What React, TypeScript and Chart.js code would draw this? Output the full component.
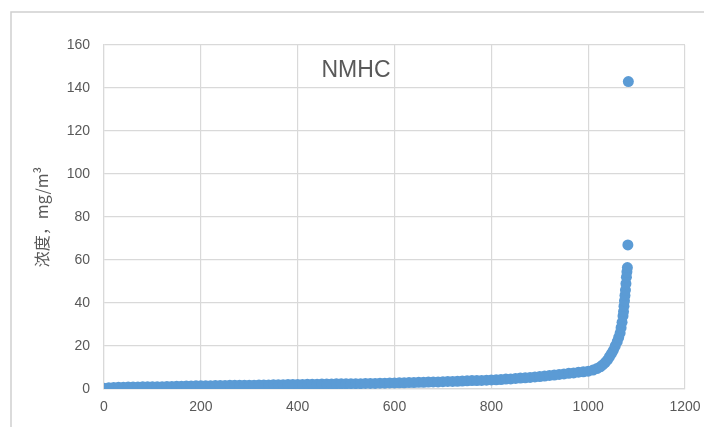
import React, { useEffect, useRef } from "react";
import { Chart, registerables } from "chart.js";

Chart.register(...registerables);

const chartTitle = "NMHC";
const yAxisLabel = "浓度，mg/m³";
const xTickValues = [0, 200, 400, 600, 800, 1000, 1200];
const yTickValues = [0, 20, 40, 60, 80, 100, 120, 140, 160];

const sampleIndex = [
  0, 10, 20, 30, 40, 50, 60, 70, 80, 90,
  100, 110, 120, 130, 140, 150, 160, 170, 180, 190,
  200, 210, 220, 230, 240, 250, 260, 270, 280, 290,
  300, 310, 320, 330, 340, 350, 360, 370, 380, 390,
  400, 410, 420, 430, 440, 450, 460, 470, 480, 490,
  500, 510, 520, 530, 540, 550, 560, 570, 580, 590,
  600, 610, 620, 630, 640, 650, 660, 670, 680, 690,
  700, 710, 720, 730, 740, 750, 760, 770, 780, 790,
  800, 810, 820, 830, 840, 850, 860, 870, 880, 890,
  900, 910, 920, 930, 940, 950, 960, 970, 980, 990,
  1000, 1010, 1018, 1025, 1030, 1035, 1040, 1044, 1048, 1052,
  1056, 1060, 1063, 1066, 1068, 1070, 1072, 1073, 1074, 1075,
  1076, 1077, 1078, 1079, 1080, 1081, 1082, 1083,
];

const concentration = [
  0.3, 0.6, 0.7, 0.8, 0.8, 0.9, 0.9, 0.9, 1.0, 1.0,
  1.0, 1.1, 1.1, 1.2, 1.2, 1.3, 1.3, 1.4, 1.4, 1.5,
  1.5, 1.5, 1.5, 1.6, 1.6, 1.6, 1.7, 1.7, 1.7, 1.8,
  1.8, 1.8, 1.9, 1.9, 1.9, 2.0, 2.0, 2.0, 2.1, 2.1,
  2.1, 2.1, 2.2, 2.2, 2.2, 2.3, 2.3, 2.3, 2.4, 2.4,
  2.4, 2.5, 2.5, 2.5, 2.6, 2.6, 2.6, 2.7, 2.7, 2.8,
  2.8, 2.9, 2.9, 3.0, 3.0, 3.1, 3.1, 3.2, 3.3, 3.3,
  3.4, 3.5, 3.5, 3.6, 3.7, 3.8, 3.9, 3.9, 4.0, 4.1,
  4.2, 4.3, 4.4, 4.6, 4.7, 4.9, 5.1, 5.2, 5.4, 5.6,
  5.8, 6.0, 6.3, 6.5, 6.8, 7.0, 7.3, 7.5, 7.8, 8.0,
  8.3, 8.8, 9.5, 10.3, 11.2, 12.3, 13.5, 15.0, 16.5, 18.0,
  20.0, 22.0, 24.0, 26.0, 28.5, 31.0, 34.0, 36.0, 38.5, 41.0,
  43.5, 46.0, 49.0, 52.0, 54.5, 56.5, 67.0, 143.0,
];

const TEXT_COLOR = "#595959";
const GRID_COLOR = "#d9d9d9";
const POINT_COLOR = "#5B9BD5";

const decorPlugin = {
  id: "decor",
  afterDraw(chart: any) {
    const ctx = chart.ctx;
    ctx.save();
    ctx.strokeStyle = "#d0d0d0";
    ctx.lineWidth = 1.5;
    ctx.beginPath();
    ctx.moveTo(11, 427);
    ctx.lineTo(11, 12);
    ctx.lineTo(704, 12);
    ctx.stroke();
    ctx.fillStyle = TEXT_COLOR;
    ctx.font = "23px 'Liberation Sans', Arial, sans-serif";
    ctx.textAlign = "center";
    ctx.textBaseline = "alphabetic";
    ctx.fillText(chartTitle, 356, 77);
    const area = chart.chartArea;
    ctx.translate(42, (area.top + area.bottom) / 2);
    ctx.rotate(-Math.PI / 2);
    ctx.font = "16px 'Noto Sans CJK SC', 'Liberation Sans', sans-serif";
    ctx.textBaseline = "middle";
    ctx.fillText(yAxisLabel, 0, 0);
    ctx.restore();
  },
};

export default function App() {
  const canvasRef = useRef<HTMLCanvasElement | null>(null);

  useEffect(() => {
    if (!canvasRef.current) return;
    const points = sampleIndex.map((x, i) => ({ x, y: concentration[i] }));
    const tickFont = { family: "'Liberation Sans', Arial, sans-serif", size: 14 };
    const chart = new Chart(canvasRef.current, {
      type: "scatter",
      data: {
        datasets: [
          {
            data: points,
            backgroundColor: POINT_COLOR,
            borderColor: POINT_COLOR,
            borderWidth: 0,
            pointRadius: 5.5,
          },
        ],
      },
      plugins: [decorPlugin],
      options: {
        responsive: false,
        animation: false,
        devicePixelRatio: 1,
        layout: { padding: { left: 0, top: 45, right: 19, bottom: 0 } },
        plugins: {
          legend: { display: false },
          title: { display: false },
          tooltip: { enabled: false },
        },
        scales: {
          x: {
            type: "linear",
            min: xTickValues[0],
            max: xTickValues[xTickValues.length - 1],
            afterBuildTicks: (s: any) => {
              s.ticks = xTickValues.map((v) => ({ value: v }));
            },
            afterFit: (s: any) => {
              s.height = 38;
              s.paddingLeft = 0;
              s.paddingRight = 0;
            },
            ticks: {
              color: TEXT_COLOR,
              font: tickFont,
              padding: 10,
              maxRotation: 0,
              callback: (v: any) => String(v),
            },
            grid: { color: GRID_COLOR, lineWidth: 1.2, drawTicks: false },
            border: { color: GRID_COLOR, width: 1.2 },
          },
          y: {
            type: "linear",
            min: yTickValues[0],
            max: yTickValues[yTickValues.length - 1],
            afterBuildTicks: (s: any) => {
              s.ticks = yTickValues.map((v) => ({ value: v }));
            },
            afterFit: (s: any) => {
              s.width = 104;
              s.paddingTop = 0;
              s.paddingBottom = 0;
            },
            ticks: { color: TEXT_COLOR, font: tickFont, padding: 14, callback: (v: any) => String(v) },
            grid: { color: GRID_COLOR, lineWidth: 1.2, drawTicks: false },
            border: { color: GRID_COLOR, width: 1.2 },
          },
        },
      },
    } as any);
    return () => chart.destroy();
  }, []);

  return (
    <div style={{ position: "absolute", left: 0, top: 0, width: 704, height: 427, background: "#fff" }}>
      <canvas ref={canvasRef} width={704} height={427} style={{ display: "block" }} />
    </div>
  );
}
